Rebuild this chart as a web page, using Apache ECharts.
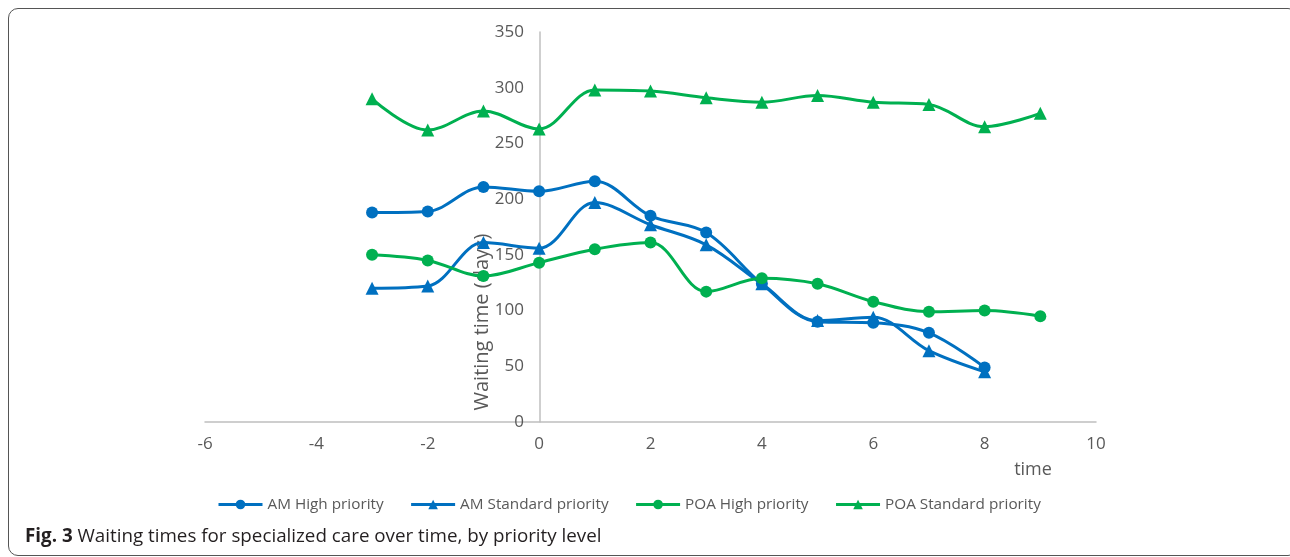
<!DOCTYPE html>
<html><head><meta charset="utf-8">
<script src="https://cdn.jsdelivr.net/npm/echarts@6/dist/echarts.min.js"></script>
<style>
html,body{margin:0;padding:0;background:#fff;}
#frame{position:absolute;left:8px;top:8px;width:1290px;height:548px;border:1px solid #555;border-radius:10px;box-sizing:border-box;}
#chart{position:absolute;left:0;top:0;width:1290px;height:557px;}
</style></head>
<body>
<div id="frame"></div>
<div id="chart"></div>
<script>
const times = [-3,-2,-1,0,1,2,3,4,5,6,7,8,9];
const xTicks = [-6,-4,-2,0,2,4,6,8,10];
const amHigh = [188,189,211,207,216,185,170,124,90,89,80,49];
const amStd = [120,122,161,156,197,177,159,124,91,94,64,45];
const poaHigh = [150,145,131,143,155,161,117,129,124,108,99,100,95];
const poaStd = [290,262,279,263,298,297,291,287,293,287,285,265,277];
const seriesNames = ['AM High priority','AM Standard priority','POA High priority','POA Standard priority'];

const BLUE = '#0070C0', GREEN = '#00B050', GREY = '#595959';
const pairs = v => v.map((y,i)=>[times[i], y]);
function mk(name, vals, color, sym){
  return {name, type:'line', data:pairs(vals), smooth:0.35, symbol:sym, symbolSize: sym==='circle'?12:13,
    lineStyle:{color, width:3}, itemStyle:{color}, z: 3};
}
const chart = echarts.init(document.getElementById('chart'));
chart.setOption({
  animation:false,
  textStyle:{fontFamily:'Open Sans'},
  grid:{left:205, right:194, top:32, bottom:135},
  xAxis:{type:'value', min:-6, max:10, interval:2,
    axisLine:{lineStyle:{color:'#bfbfbf', width:1.5}},
    axisTick:{show:false}, splitLine:{show:false},
    axisLabel:{color:GREY, fontSize:17, margin:14}},
  yAxis:{type:'value', min:0, max:350, interval:50, offset:-335,
    axisLine:{show:true, onZero:false, lineStyle:{color:'#bfbfbf', width:1.5}},
    axisTick:{show:false}, splitLine:{show:false},
    axisLabel:{color:GREY, fontSize:17, margin:16}},
  legend:{left:212, top:492, itemGap:26, itemWidth:44, itemHeight:12,
    lineStyle:{width:3},
    textStyle:{color:GREY, fontSize:15.3, fontFamily:'Open Sans'}, data:seriesNames},
  series:[
    mk(seriesNames[0], amHigh, BLUE, 'circle'),
    mk(seriesNames[1], amStd, BLUE, 'triangle'),
    mk(seriesNames[2], poaHigh, GREEN, 'circle'),
    mk(seriesNames[3], poaStd, GREEN, 'triangle')
  ],
  graphic:[
    {type:'text', x:482, y:322, rotation:Math.PI/2, style:{text:'Waiting time (days)', fill:GREY, fontSize:20, fontFamily:'Open Sans', align:'center', verticalAlign:'middle'}},
    {type:'text', x:1033, y:470, style:{text:'time', fill:GREY, fontSize:18, fontFamily:'Open Sans', align:'center', verticalAlign:'middle'}},
    {type:'text', x:25, y:537, style:{text:'{b|Fig. 3} Waiting times for specialized care over time, by priority level', fontFamily:'Open Sans', fontSize:18.8, fill:'#231f20', verticalAlign:'middle', rich:{b:{fontWeight:'bold', fontSize:18.8, fontFamily:'Open Sans', fill:'#231f20'}}}}
  ]
});
</script>
</body></html>
